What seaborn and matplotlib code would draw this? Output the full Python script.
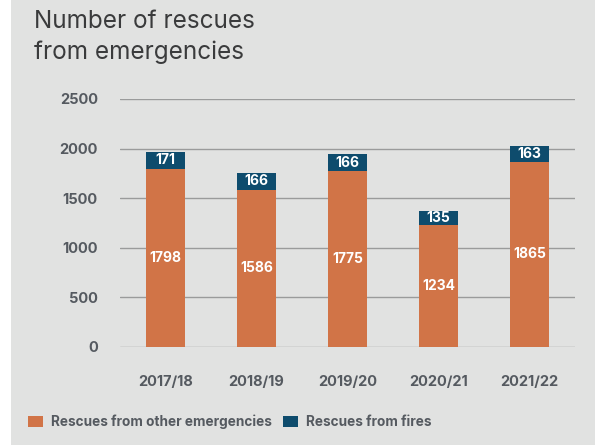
import matplotlib
matplotlib.use("Agg")
import matplotlib.pyplot as plt
from matplotlib.patches import FancyBboxPatch, Patch
import seaborn as sns
import pandas as pd

years = ["2017/18", "2018/19", "2019/20", "2020/21", "2021/22"]
other = [1798, 1586, 1775, 1234, 1865]
fires = [171, 166, 166, 135, 163]
yticks = [0, 500, 1000, 1500, 2000, 2500]

ORANGE = "#d17447"
NAVY = "#0e4c6d"
BG = "#e1e2e1"
TXT = "#555a60"

sns.set_theme(style="white")
plt.rcParams['font.family'] = ['Inter', 'DejaVu Sans']

df = pd.DataFrame({"year": years, "other": other, "fires": fires})
df["total"] = df["other"] + df["fires"]

fig = plt.figure(figsize=(5.95, 4.45), dpi=100)
fig.patch.set_facecolor("white")
card = FancyBboxPatch((11 / 595, -0.2), 1.2, 1.4, boxstyle="round,pad=0,rounding_size=0.03",
                      transform=fig.transFigure, facecolor=BG, edgecolor="none", zorder=-10)
fig.patches.append(card)

ax = fig.add_axes([120 / 595, (445 - 347) / 445, 455 / 595, 248 / 445])
ax.set_facecolor("none")

sns.barplot(data=df, x="year", y="total", color=NAVY, width=0.42, ax=ax,
            saturation=1, zorder=3, edgecolor="none")
sns.barplot(data=df, x="year", y="other", color=ORANGE, width=0.42, ax=ax,
            saturation=1, zorder=4, edgecolor="none")

for i, (o, f) in enumerate(zip(other, fires)):
    ax.text(i, o / 2, str(o), ha="center", va="center", color="white",
            fontsize=10, fontweight="bold", zorder=5)
    ax.text(i, o + f / 2, str(f), ha="center", va="center", color="white",
            fontsize=10, fontweight="bold", zorder=5)

ax.set_xlim(-0.5, 4.5)
ax.set_ylim(0, 2500)
ax.set_yticks(yticks)
ax.set_yticklabels([str(t) for t in yticks])
ax.grid(axis="y", color="#9a9b9b", linewidth=1.0, zorder=1)
ax.set_axisbelow(True)
for s in ax.spines.values():
    s.set_visible(False)
ax.tick_params(axis="y", length=0, pad=16, labelsize=10.5, labelcolor=TXT)
ax.tick_params(axis="x", length=0, pad=20, labelsize=10.5, labelcolor=TXT)
for lab in ax.get_xticklabels() + ax.get_yticklabels():
    lab.set_fontweight("bold")
ax.set_xlabel("")
ax.set_ylabel("")

fig.text(34 / 595, 1 - 10 / 445, "Number of rescues\nfrom emergencies", ha="left", va="top",
         fontsize=17.5, fontweight="normal", color="#3a3b3c", linespacing=1.4)

handles = [Patch(facecolor=ORANGE, edgecolor="none", label="Rescues from other emergencies"),
           Patch(facecolor=NAVY, edgecolor="none", label="Rescues from fires")]
leg = fig.legend(handles=handles, loc="center left", bbox_to_anchor=(16 / 595, (445 - 422) / 445),
                 ncol=2, frameon=False, fontsize=9.8, handlelength=1.1, handleheight=0.9,
                 handletextpad=0.6, columnspacing=0.8)
for t in leg.get_texts():
    t.set_color(TXT)
    t.set_fontweight("bold")

fig.savefig("out.png", dpi=100, facecolor="white")
